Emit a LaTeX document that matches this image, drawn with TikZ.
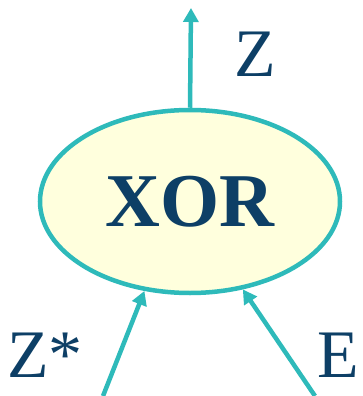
\documentclass[tikz,border=0pt]{standalone}
\usepackage{fontspec}
\setmainfont{Liberation Serif}
\usepackage{xcolor}
\usetikzlibrary{arrows.meta,shapes.geometric}
\definecolor{tealline}{HTML}{2EBABA}
\definecolor{navytext}{HTML}{0D3F66}
\definecolor{paleyellow}{HTML}{FFFFDD}
\begin{document}
\begin{tikzpicture}[x=1pt,y=-1pt,>={Triangle[length=14pt,width=15pt]},
  gate/.style={draw=tealline,fill=paleyellow,line width=4.5pt,ellipse,inner sep=0pt,
    minimum width=300pt,minimum height=183pt,text=navytext,font=\fontsize{76}{80}\selectfont\bfseries},
  sig/.style={text=navytext,anchor=base,inner sep=0pt,font=\fontsize{68}{80}\selectfont},
  arr/.style={->,draw=tealline,line width=4.5pt}]
\useasboundingbox (0,0) rectangle (362,396);
\node[gate] (xor) at (190,201.5) {XOR};
\coordinate (zout) at (191,8);
\coordinate (zsin) at (103,396);
\coordinate (ein) at (315,396);
\node[sig] (zlab) at (255,77) {Z};
\node[sig] (zslab) at (45,377) {Z*};
\node[sig,anchor=base east] (elab) at (359,377) {E};
\draw[arr] (xor.north) -- (zout);
\draw[arr] (zsin) -- (xor.243);
\draw[arr] (ein) -- (xor.301);
\end{tikzpicture}
\end{document}
